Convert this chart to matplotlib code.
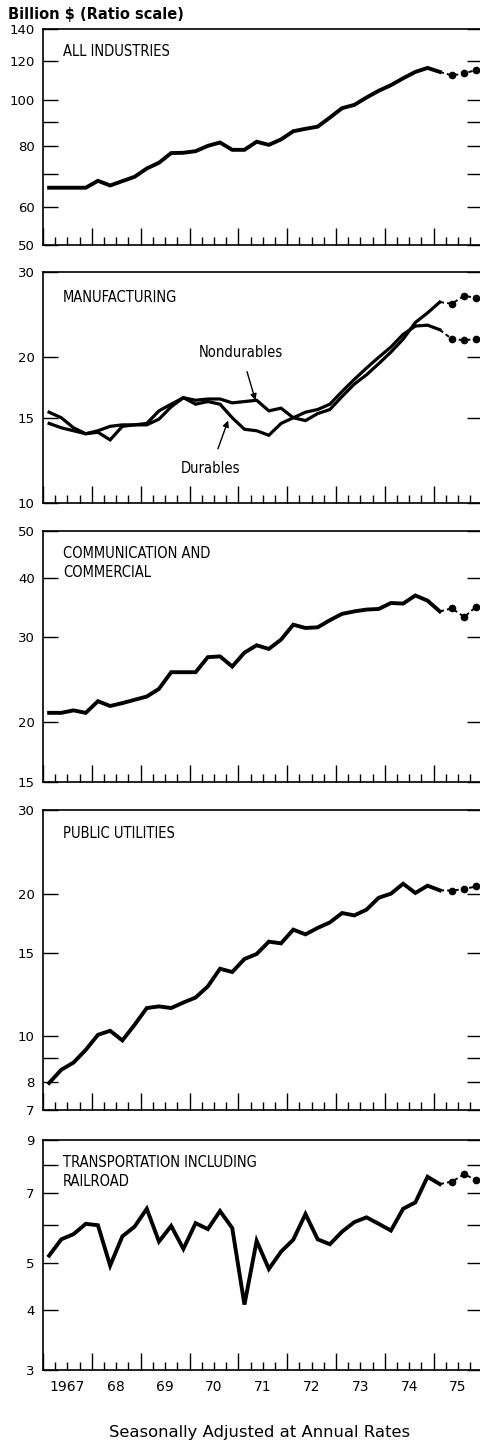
import numpy as np
import matplotlib.pyplot as plt
from matplotlib.ticker import NullLocator, FixedLocator

# Quarterly business fixed investment, billions of dollars (ratio scale)
# actual: 1967 Q1 .. 1975 Q1, anticipated: 1975 Q2 .. Q4
years = np.repeat(np.arange(1967, 1976), 4)
quarter = np.tile([1, 2, 3, 4], 9)
x_q = years + (quarter - 0.5) / 4
x_act = x_q[:33]
x_ant = x_q[32:36]

all_ind = [65.7, 65.7, 65.7, 65.7, 67.9, 66.4, 67.8, 69.2, 72.0, 74.0, 77.5, 77.6,
           78.2, 80.2, 81.5, 78.7, 78.7, 81.8, 80.6, 82.7, 86.0, 87.0, 87.9, 91.8,
           96.0, 97.5, 101.0, 104.3, 107.1, 110.7, 114.1, 116.3, 114.1]
all_ind_ant = [112.2, 113.3, 115.2]

durables = [15.4, 15.0, 14.3, 13.9, 14.0, 13.5, 14.4, 14.5, 14.6, 15.5, 16.0, 16.5,
            16.0, 16.2, 16.0, 15.0, 14.2, 14.1, 13.8, 14.6, 15.0, 15.4, 15.6, 16.0,
            17.0, 18.0, 19.0, 20.0, 21.0, 22.3, 23.2, 23.3, 22.8]
durables_ant = [21.8, 21.7, 21.8]

nondurables = [14.6, 14.3, 14.1, 13.9, 14.1, 14.4, 14.5, 14.5, 14.5, 14.9, 15.8, 16.5,
               16.3, 16.4, 16.4, 16.1, 16.2, 16.3, 15.5, 15.7, 15.0, 14.8, 15.3, 15.6,
               16.6, 17.6, 18.4, 19.4, 20.5, 21.8, 23.6, 24.7, 26.0]
nondurables_ant = [25.8, 26.8, 26.5]

comm = [20.9, 20.9, 21.15, 20.9, 22.1, 21.6, 21.9, 22.25, 22.6, 23.45, 25.4, 25.4,
        25.4, 27.3, 27.4, 26.1, 27.9, 28.9, 28.4, 29.7, 31.9, 31.4, 31.5, 32.6,
        33.6, 34.0, 34.3, 34.4, 35.4, 35.3, 36.7, 35.8, 34.0]
comm_ant = [34.5, 33.1, 34.8]

utilities = [7.98, 8.51, 8.81, 9.37, 10.08, 10.28, 9.81, 10.58, 11.48, 11.57, 11.48, 11.79,
             12.08, 12.75, 13.89, 13.67, 14.56, 14.92, 15.84, 15.71, 16.79, 16.41, 16.93, 17.39,
             18.2, 17.99, 18.5, 19.6, 19.99, 20.98, 20.06, 20.78, 20.32]
utilities_ant = [20.29, 20.45, 20.71]

transport = [5.18, 5.6, 5.74, 6.03, 5.99, 4.94, 5.68, 5.95, 6.48, 5.54, 5.97, 5.35,
             6.05, 5.88, 6.41, 5.91, 4.1, 5.56, 4.86, 5.28, 5.59, 6.32, 5.6, 5.47,
             5.81, 6.08, 6.22, 6.03, 5.84, 6.48, 6.68, 7.55, 7.29]
transport_ant = [7.38, 7.64, 7.43]

year_labels = ['1967', '68', '69', '70', '71', '72', '73', '74', '75']

# panel frames in pixels (top, bottom), name position and y axis setup
W, H = 481, 1442
panels = [
    dict(top=29, bot=245, lim=(50, 140), labeled=[50, 60, 80, 100, 120, 140], extra=[70, 90],
         name='ALL INDUSTRIES', name_y=52),
    dict(top=272, bot=503, lim=(10, 30), labeled=[10, 15, 20, 30], extra=[],
         name='MANUFACTURING', name_y=297),
    dict(top=531, bot=782, lim=(15, 50), labeled=[15, 20, 30, 40, 50], extra=[],
         name='COMMUNICATION AND\nCOMMERCIAL', name_y=553),
    dict(top=810, bot=1110, lim=(7, 30), labeled=[7, 8, 10, 15, 20, 30], extra=[9],
         name='PUBLIC UTILITIES', name_y=833),
    dict(top=1140, bot=1370, lim=(3, 9), labeled=[3, 4, 5, 7, 9], extra=[6, 8],
         name='TRANSPORTATION INCLUDING\nRAILROAD', name_y=1162),
]

plt.rcParams['font.family'] = 'DejaVu Sans'
name_font = dict(family='DejaVu Sans', fontstretch='condensed', fontsize=10.5)

fig = plt.figure(figsize=(W / 100, H / 100), dpi=100)

left_px, right_px = 43, 482.5
axes = []
for p in panels:
    ax = fig.add_axes([left_px / W, 1 - p['bot'] / H, (right_px - left_px) / W,
                       (p['bot'] - p['top']) / H])
    ax.set_yscale('log')
    ax.set_ylim(*p['lim'])
    ax.set_xlim(1967, 1976)
    ticks = sorted(p['labeled'] + p['extra'])
    ax.yaxis.set_major_locator(FixedLocator(ticks))
    ax.set_yticklabels([str(t) if t in p['labeled'] else '' for t in ticks])
    ax.yaxis.set_minor_locator(NullLocator())
    ax.set_xticks(np.arange(1967, 1977))
    ax.set_xticks(np.arange(1967, 1976, 0.25), minor=True)
    ax.set_xticklabels([])
    ax.tick_params(axis='y', which='both', direction='in', left=True, right=True,
                   length=11, width=1, labelsize=9.5, pad=6)
    ax.tick_params(axis='x', which='major', direction='in', length=12, width=1, top=False)
    ax.tick_params(axis='x', which='minor', direction='in', length=5.5, width=1, top=False)
    for s in ax.spines.values():
        s.set_linewidth(1.2)
    axes.append(ax)
    if '\n' in p['name']:
        fig.text(63 / W, 1 - (p['name_y'] - 7) / H, p['name'], ha='left', va='top',
                 linespacing=1.3, **name_font)
    else:
        fig.text(63 / W, 1 - p['name_y'] / H, p['name'], ha='left', va='center', **name_font)

ant_style = dict(color='black', lw=1.4, ls=(0, (2.2, 1.6)), marker='o', ms=4.5,
                 markevery=[1, 2, 3])


def plot_series(ax, act, ant, lw=2.8):
    ax.plot(x_act, act, color='black', lw=lw, solid_joinstyle='miter')
    ax.plot(x_ant, [act[-1]] + ant, **ant_style)


plot_series(axes[0], all_ind, all_ind_ant)
plot_series(axes[1], durables, durables_ant, lw=2.3)
plot_series(axes[1], nondurables, nondurables_ant, lw=2.3)
plot_series(axes[2], comm, comm_ant)
plot_series(axes[3], utilities, utilities_ant)
plot_series(axes[4], transport, transport_ant)

# manufacturing arrows
arrow = dict(arrowstyle='-|>', color='black', lw=1, mutation_scale=9, shrinkA=7, shrinkB=0)
axes[1].annotate('Nondurables', xy=(1971.35, 16.3), xytext=(1971.06, 20.5),
                 ha='center', va='center', arrowprops=arrow, **name_font)
axes[1].annotate('Durables', xy=(1970.79, 14.8), xytext=(1970.44, 11.8),
                 ha='center', va='center', arrowprops=arrow, **name_font)

# year labels
for i, lab in enumerate(year_labels):
    axes[-1].annotate(lab, xy=(1967.5 + i, 0), xycoords=('data', 'axes fraction'),
                      xytext=(0, -12.5), textcoords='offset points',
                      ha='center', va='center', fontsize=10)

fig.text(8 / W, 1 - 15 / H, r'Billion \$ (Ratio scale)', fontsize=10.5, fontweight='bold',
         ha='left', va='center')
fig.text(260 / W, 1 - 1432 / H, 'Seasonally Adjusted at Annual Rates', fontsize=11.8,
         ha='center', va='center')

fig.savefig('out.png', dpi=100)
